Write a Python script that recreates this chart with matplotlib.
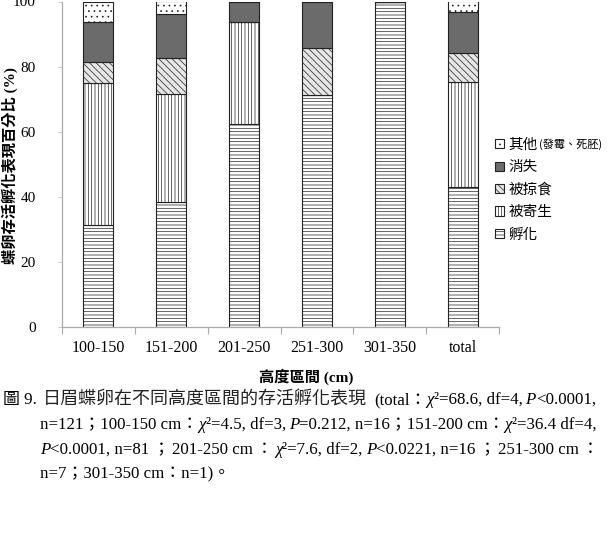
import matplotlib
matplotlib.use("Agg")
import matplotlib.pyplot as plt
import numpy as np

# 高度區間與各類別百分比 (%)
categorias = ["100-150", "151-200", "201-250", "251-300", "301-350", "total"]
fuhua = [31.2, 38.3, 62.5, 71.4, 100.0, 43.0]      # 孵化
jisheng = [43.8, 33.3, 31.2, 0.0, 0.0, 32.2]       # 被寄生
lueshi = [6.3, 11.1, 0.0, 14.3, 0.0, 9.1]          # 被掠食
xiaoshi = [12.5, 13.6, 6.3, 14.3, 0.0, 12.4]       # 消失
qita = [6.2, 3.7, 0.0, 0.0, 0.0, 3.3]              # 其他
etiquetas = ["孵化", "被寄生", "被掠食", "消失", "其他"]

W, H = 608, 549
plt.rcParams["hatch.linewidth"] = 0.5
serif = ["Liberation Serif", "Noto Sans CJK TC"]
cjk = ["Noto Sans CJK TC", "DejaVu Sans"]

fig = plt.figure(figsize=(W / 100, H / 100), dpi=100)
ax = fig.add_axes([62 / W, 1 - 327 / H, (499 - 62) / W, (327 - 1.5) / H])

x = np.arange(len(categorias))
series = [fuhua, jisheng, lueshi, xiaoshi, qita]
estilos = [
    dict(color="white", hatch="-----"),
    dict(color="white", hatch="|||||"),
    dict(color="#e6e6e6", hatch="\\\\\\\\\\"),
    dict(color="#6b6b6b", hatch=""),
    dict(color="white", hatch="..."),
]
base = np.zeros(len(categorias))
barras = []
for vals, est, lab in zip(series, estilos, etiquetas):
    b = ax.bar(x, vals, 0.41, bottom=base, color=est["color"], hatch=est["hatch"],
               edgecolor="#222222", linewidth=0.8, label=lab)
    barras.append(b)
    base = base + np.array(vals)

ax.set_xlim(-0.5, len(categorias) - 0.5)
ax.set_ylim(0, 100)
ax.set_yticks([0, 20, 40, 60, 80, 100])
ax.set_xticks(x)
ax.set_xticklabels(categorias, family=serif, fontsize=11.5)
ax.set_xticks(np.arange(-0.5, len(categorias)), minor=True)
ax.tick_params(axis="x", which="major", length=0, pad=9)
ax.tick_params(axis="x", which="minor", length=5, color="#aaaaaa", width=0.8)
ax.tick_params(axis="y", length=3, color="#cccccc", pad=16, labelsize=11)
for t in ax.get_yticklabels():
    t.set_family(serif)
for s in ["top", "right"]:
    ax.spines[s].set_visible(False)
for s in ["left", "bottom"]:
    ax.spines[s].set_color("#aaaaaa")
    ax.spines[s].set_linewidth(0.9)

fig.text(10 / W, 1 - 166 / H, "蝶卵存活孵化表現百分比 (%)", rotation=90,
         ha="center", va="center", family=serif, fontsize=11, fontweight="bold")
fig.text(306 / W, 1 - 377 / H, "高度區間 (cm)", ha="center", va="center",
         family=serif, fontsize=11, fontweight="bold")

# leyenda
leg = fig.legend(handles=barras[::-1], labels=etiquetas[::-1], loc="upper left",
                 bbox_to_anchor=(489 / W, 1 - 132 / H), frameon=False,
                 prop={"family": cjk, "size": 10.5}, handlelength=0.6,
                 handleheight=0.6, handletextpad=0.35, labelspacing=0.58,
                 borderaxespad=0)
leg.get_texts()[0].set_text("其他")

fig.canvas.draw()
renderer = fig.canvas.get_renderer()
bb = leg.get_texts()[0].get_window_extent(renderer)
fig.text((bb.x1 + 1) / W, bb.y0 / H + 0.004, "(發霉、死胚)", family=cjk, fontsize=8,
         ha="left", va="bottom")

# leyenda de la figura
rm = dict(family=serif, fontsize=12.2)
it = dict(family=serif, fontsize=12.2, style="italic")
hw = dict(family=cjk, fontsize=13, fontweight="light", color="#222222")
lineas = [
    (3, 404, [("圖 9.", rm), 6, ("日眉蝶卵在不同高度區間的存活孵化表現", hw), 7,
              ("(total：", rm), ("χ", it), ("²=68.6, df=4,", rm), 3, ("P", it),
              ("<0.0001,", rm)]),
    (40, 429, [("n=121；100-150 cm：", rm), ("χ", it), ("²=4.5, df=3,", rm), 3,
               ("P", it), ("=0.212, n=16；151-200 cm：", rm), ("χ", it),
               ("²=36.4 df=4,", rm)]),
    (40, 454, [("P", it), ("<0.0001, n=81", rm), 3, ("；", rm), 3, ("201-250 cm", rm), 3,
               ("：", rm), 2, ("χ", it), ("²=7.6, df=2,", rm), 3, ("P", it),
               ("<0.0221, n=16", rm), 3, ("；", rm), 3, ("251-300 cm", rm), 3, ("：", rm)]),
    (40, 478, [("n=7；301-350 cm：n=1)。", rm)]),
]
for x0, y0, piezas in lineas:
    xp = x0
    for p in piezas:
        if isinstance(p, (int, float)):
            xp += p
            continue
        s, kw = p
        t = fig.text(xp / W, 1 - y0 / H, s, ha="left", va="baseline", **kw)
        xp += t.get_window_extent(renderer).width

fig.savefig("out.png", dpi=100)
